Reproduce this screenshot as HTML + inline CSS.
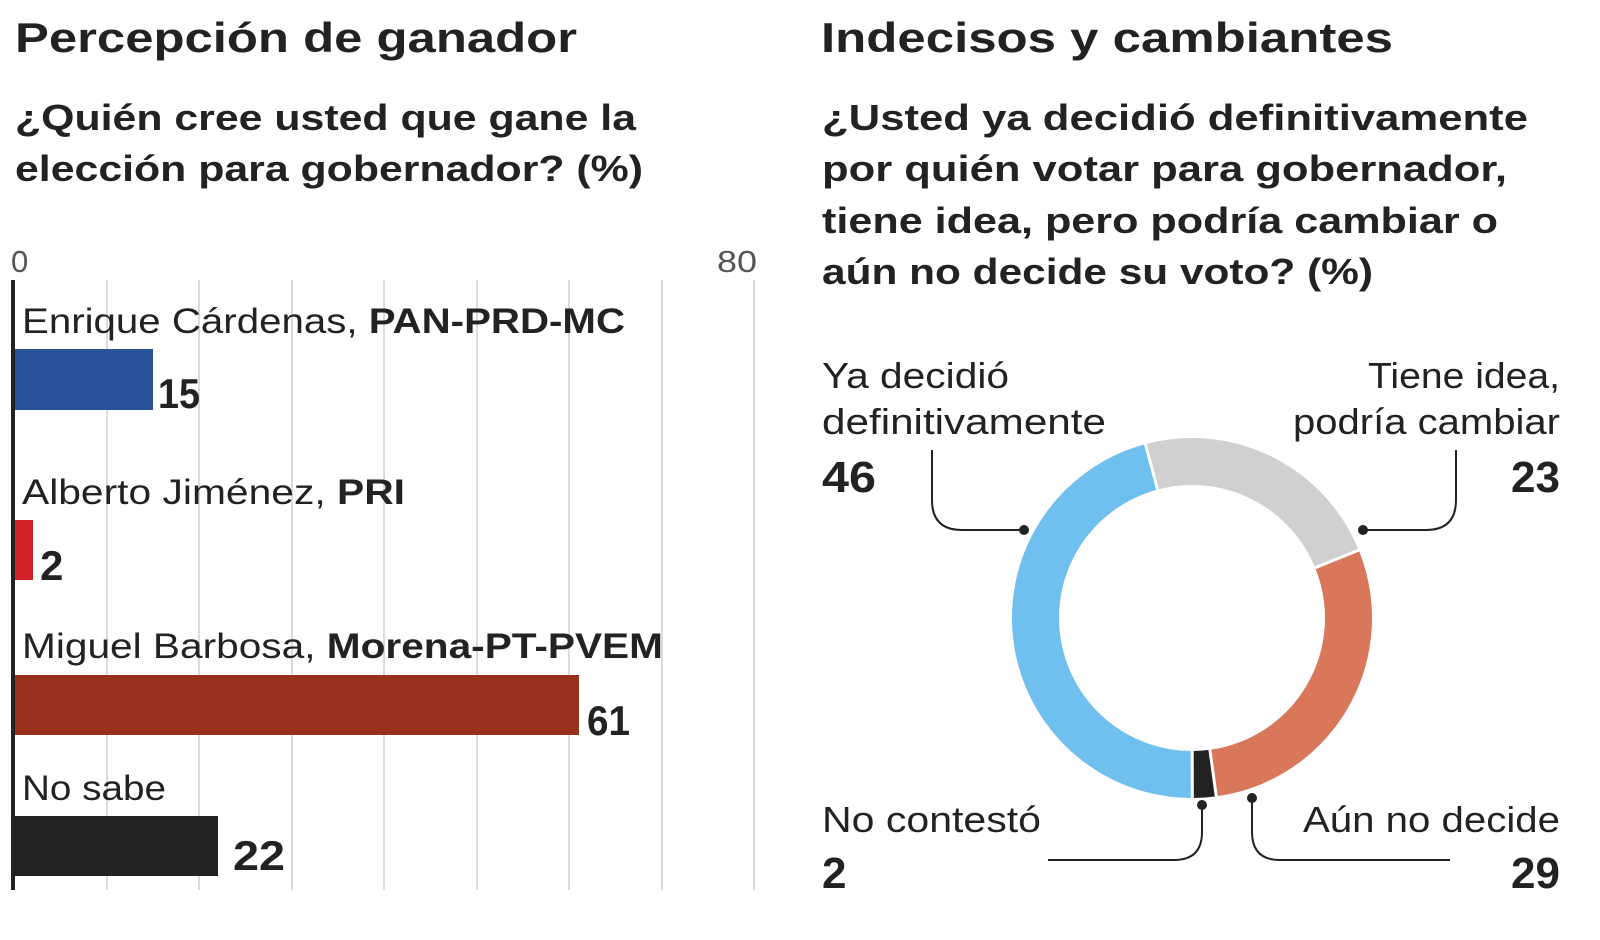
<!DOCTYPE html>
<html><head><meta charset="utf-8"><style>html,body{margin:0;padding:0;background:#fff}svg{display:block}text{font-family:"Liberation Sans",sans-serif;fill:#222}</style></head>
<body>
<svg width="1600" height="940" viewBox="0 0 1600 940" xmlns="http://www.w3.org/2000/svg">
<g font-weight="bold">
<text x="15" y="52" font-size="42" textLength="562" lengthAdjust="spacingAndGlyphs">Percepción de ganador</text>
<text x="821" y="52" font-size="42" textLength="572" lengthAdjust="spacingAndGlyphs">Indecisos y cambiantes</text>
<g font-size="36">
<text x="15" y="130" textLength="621" lengthAdjust="spacingAndGlyphs">¿Quién cree usted que gane la</text>
<text x="15" y="181" textLength="628" lengthAdjust="spacingAndGlyphs">elección para gobernador? (%)</text>
<text x="822" y="130" textLength="706" lengthAdjust="spacingAndGlyphs">¿Usted ya decidió definitivamente</text>
<text x="822" y="181" textLength="685" lengthAdjust="spacingAndGlyphs">por quién votar para gobernador,</text>
<text x="822" y="233" textLength="676" lengthAdjust="spacingAndGlyphs">tiene idea, pero podría cambiar o</text>
<text x="822" y="284" textLength="551" lengthAdjust="spacingAndGlyphs">aún no decide su voto? (%)</text>
</g></g>
<g stroke="#cfcfcf" stroke-width="1.5">
<line x1="107" y1="280" x2="107" y2="890"/><line x1="199" y1="280" x2="199" y2="890"/>
<line x1="292" y1="280" x2="292" y2="890"/><line x1="384" y1="280" x2="384" y2="890"/>
<line x1="477" y1="280" x2="477" y2="890"/><line x1="569" y1="280" x2="569" y2="890"/>
<line x1="662" y1="280" x2="662" y2="890"/><line x1="754" y1="280" x2="754" y2="890"/>
</g>
<text x="11" y="272" font-size="31" style="fill:#555">0</text>
<text x="717" y="272" font-size="31" style="fill:#555" textLength="40" lengthAdjust="spacingAndGlyphs">80</text>
<rect x="15" y="349" width="138" height="61" fill="#2a5298"/>
<rect x="15" y="520" width="18" height="60" fill="#d2232a"/>
<rect x="15" y="675" width="564" height="60" fill="#98301e"/>
<rect x="15" y="816" width="203" height="60" fill="#222"/>
<line x1="13" y1="280" x2="13" y2="890" stroke="#222" stroke-width="4"/>
<g font-size="35">
<text x="22" y="333" textLength="603" lengthAdjust="spacingAndGlyphs">Enrique Cárdenas, <tspan font-weight="bold">PAN-PRD-MC</tspan></text>
<text x="22" y="504" textLength="383" lengthAdjust="spacingAndGlyphs">Alberto Jiménez, <tspan font-weight="bold">PRI</tspan></text>
<text x="22" y="658" textLength="641" lengthAdjust="spacingAndGlyphs">Miguel Barbosa, <tspan font-weight="bold">Morena-PT-PVEM</tspan></text>
<text x="22" y="800" textLength="144" lengthAdjust="spacingAndGlyphs">No sabe</text>
</g>
<g font-size="42" font-weight="bold">
<text x="158" y="408" textLength="42" lengthAdjust="spacingAndGlyphs">15</text><text x="40" y="580">2</text>
<text x="587" y="735" textLength="43" lengthAdjust="spacingAndGlyphs">61</text><text x="233" y="870" textLength="52" lengthAdjust="spacingAndGlyphs">22</text>
</g>
<g transform="translate(1192,618) rotate(-105)" fill="none" stroke-width="47">
<circle r="156.5" stroke="#d0d0d0" stroke-dasharray="226.2 757.1" stroke-dashoffset="0"/>
<circle r="156.5" stroke="#d8775a" stroke-dasharray="285.2 698.1" stroke-dashoffset="-226.2"/>
<circle r="156.5" stroke="#222" stroke-dasharray="19.7 963.6" stroke-dashoffset="-511.4"/>
<circle r="156.5" stroke="#6fbfef" stroke-dasharray="452.2 531.1" stroke-dashoffset="-531.1"/>
</g>
<g transform="translate(1192,618)" stroke="#fff" stroke-width="3">
<line x1="-34.4" y1="-128.5" x2="-47" y2="-175.5"/>
<line x1="123.3" y1="-50.3" x2="167" y2="-68"/>
<line x1="17.9" y1="131.8" x2="24.4" y2="179.3"/>
<line x1="0.2" y1="133" x2="0.3" y2="181"/>
</g>
<g font-size="36">
<text x="822" y="388" textLength="187" lengthAdjust="spacingAndGlyphs">Ya decidió</text>
<text x="822" y="434" textLength="284" lengthAdjust="spacingAndGlyphs">definitivamente</text>
<text x="1368" y="388" textLength="192" lengthAdjust="spacingAndGlyphs">Tiene idea,</text>
<text x="1293" y="434" textLength="267" lengthAdjust="spacingAndGlyphs">podría cambiar</text>
<text x="822" y="832" textLength="219" lengthAdjust="spacingAndGlyphs">No contestó</text>
<text x="1303" y="832" textLength="257" lengthAdjust="spacingAndGlyphs">Aún no decide</text>
</g>
<g font-size="44" font-weight="bold">
<text x="822" y="492" textLength="54" lengthAdjust="spacingAndGlyphs">46</text>
<text x="1560" y="492" text-anchor="end">23</text>
<text x="822" y="888">2</text>
<text x="1560" y="888" text-anchor="end">29</text>
</g>
<g fill="none" stroke="#222" stroke-width="2">
<path d="M1024 530 H962 Q932 530 932 500 V450"/>
<path d="M1363 530 H1426 Q1456 530 1456 500 V450"/>
<path d="M1202 805 V832 Q1202 860 1174 860 H1048"/>
<path d="M1252 798 V832 Q1252 860 1280 860 H1450"/>
</g>
<g fill="#222"><circle cx="1024" cy="530" r="5"/><circle cx="1363" cy="530" r="5"/><circle cx="1202" cy="805" r="5"/><circle cx="1252" cy="798" r="5"/></g>
</svg>
</body></html>
